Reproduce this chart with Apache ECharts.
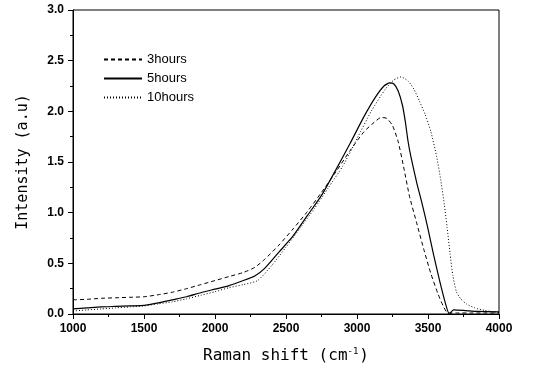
<!DOCTYPE html>
<html>
<head>
<meta charset="utf-8">
<script src="https://cdn.jsdelivr.net/npm/echarts@6/dist/echarts.min.js"></script>
<style>html,body{margin:0;padding:0;background:#fff;}#c{width:533px;height:370px;}</style>
</head>
<body>
<div id="c"></div>
<script>
const seriesNames = ['3hours', '5hours', '10hours'];
const xTicks = [1000, 1500, 2000, 2500, 3000, 3500, 4000];
const yTicks = [0.0, 0.5, 1.0, 1.5, 2.0, 2.5, 3.0];

const x3 = [1000,1100,1200,1300,1400,1500,1600,1700,1800,1900,2000,2100,2200,2280,2350,2450,2550,2650,2750,2850,2950,3050,3120,3170,3210,3250,3290,3330,3370,3420,3470,3520,3570,3610,3640,3700,3800,3900,4000];
const y3 = [0.14,0.145,0.155,0.16,0.165,0.17,0.19,0.215,0.25,0.29,0.33,0.37,0.41,0.46,0.54,0.68,0.84,1.01,1.20,1.40,1.61,1.80,1.89,1.94,1.93,1.86,1.70,1.44,1.16,0.90,0.64,0.40,0.20,0.07,0.01,0.01,0.01,0.01,0.01];

const x5 = [1000,1100,1200,1300,1400,1500,1600,1700,1800,1900,2000,2100,2200,2280,2350,2450,2550,2650,2750,2850,2950,3050,3130,3190,3230,3260,3290,3320,3340,3360,3380,3420,3460,3500,3540,3580,3620,3650,3680,3750,3850,4000];
const y5 = [0.05,0.06,0.07,0.075,0.08,0.085,0.11,0.14,0.17,0.21,0.245,0.28,0.33,0.375,0.45,0.61,0.77,0.97,1.17,1.42,1.68,1.95,2.14,2.25,2.28,2.27,2.20,2.06,1.90,1.70,1.55,1.30,1.08,0.84,0.58,0.34,0.12,0.0,0.04,0.035,0.025,0.02];

const x10 = [1000,1100,1200,1300,1400,1500,1600,1700,1800,1900,2000,2100,2200,2300,2400,2500,2600,2700,2800,2900,3000,3100,3200,3260,3310,3360,3400,3440,3480,3520,3560,3590,3615,3635,3655,3675,3700,3730,3770,3830,3900,4000];
const y10 = [0.03,0.04,0.05,0.06,0.07,0.08,0.1,0.12,0.15,0.185,0.22,0.26,0.29,0.33,0.48,0.66,0.85,1.04,1.25,1.46,1.73,2.00,2.22,2.31,2.34,2.30,2.22,2.10,1.97,1.80,1.56,1.32,1.08,0.85,0.60,0.38,0.22,0.15,0.10,0.06,0.035,0.015];

function pairs(xs, ys) { return xs.map((x, i) => [x, ys[i]]); }

const chart = echarts.init(document.getElementById('c'), null, {renderer: 'canvas'});
const tickFont = {fontFamily: 'Liberation Sans', fontSize: 12, fontWeight: 'bold', color: '#000'};
chart.setOption({
  animation: false,
  backgroundColor: '#fff',
  grid: {left: 73, right: 34, top: 10, bottom: 56, show: true, borderColor: '#000', borderWidth: 1, backgroundColor: 'transparent'},
  legend: {
    data: seriesNames,
    orient: 'vertical',
    left: 98, top: 48,
    itemWidth: 38, itemHeight: 10, itemGap: 6,
    itemStyle: {color: 'transparent', borderColor: 'transparent', borderWidth: 0},
    textStyle: {fontFamily: 'Liberation Sans', fontSize: 13, color: '#000'}
  },
  xAxis: {
    type: 'value', min: xTicks[0], max: xTicks[xTicks.length - 1], interval: 500,
    axisLine: {lineStyle: {color: '#000', width: 1}},
    axisTick: {show: true, inside: false, length: 5, lineStyle: {color: '#000'}},
    minorTick: {show: true, splitNumber: 2, length: 3, lineStyle: {color: '#000'}},
    splitLine: {show: false},
    axisLabel: Object.assign({margin: 9, formatter: v => String(v)}, tickFont),
    name: '{a|Raman shift (cm}{s|-1}{a|)}',
    nameLocation: 'middle', nameGap: 33,
    nameTextStyle: {rich: {
      a: {fontFamily: 'DejaVu Sans Mono', fontSize: 16, color: '#000'},
      s: {fontFamily: 'DejaVu Sans Mono', fontSize: 9, color: '#000', verticalAlign: 'top', padding: [0, 1, 9, 0]}
    }}
  },
  yAxis: {
    type: 'value', min: yTicks[0], max: yTicks[yTicks.length - 1], interval: 0.5,
    axisLine: {lineStyle: {color: '#000', width: 1}},
    axisTick: {show: true, inside: false, length: 5, lineStyle: {color: '#000'}},
    minorTick: {show: true, splitNumber: 2, length: 3, lineStyle: {color: '#000'}},
    splitLine: {show: false},
    axisLabel: Object.assign({margin: 9, formatter: v => v.toFixed(1)}, tickFont),
    name: 'Intensity (a.u)',
    nameLocation: 'middle', nameGap: 42,
    nameTextStyle: {fontFamily: 'DejaVu Sans Mono', fontSize: 15, color: '#000'}
  },
  series: [
    {name: seriesNames[0], type: 'line', data: pairs(x3, y3), symbol: 'none', smooth: 0.2,
     lineStyle: {color: '#000', width: 1, type: [4, 3]}, itemStyle: {color: '#000'}},
    {name: seriesNames[1], type: 'line', data: pairs(x5, y5), symbol: 'none', smooth: 0.2,
     lineStyle: {color: '#000', width: 1.2, type: 'solid'}, itemStyle: {color: '#000'}},
    {name: seriesNames[2], type: 'line', data: pairs(x10, y10), symbol: 'none', smooth: 0.2,
     lineStyle: {color: '#000', width: 1, type: [1, 2]}, itemStyle: {color: '#000'}}
  ]
});
</script>
</body>
</html>
